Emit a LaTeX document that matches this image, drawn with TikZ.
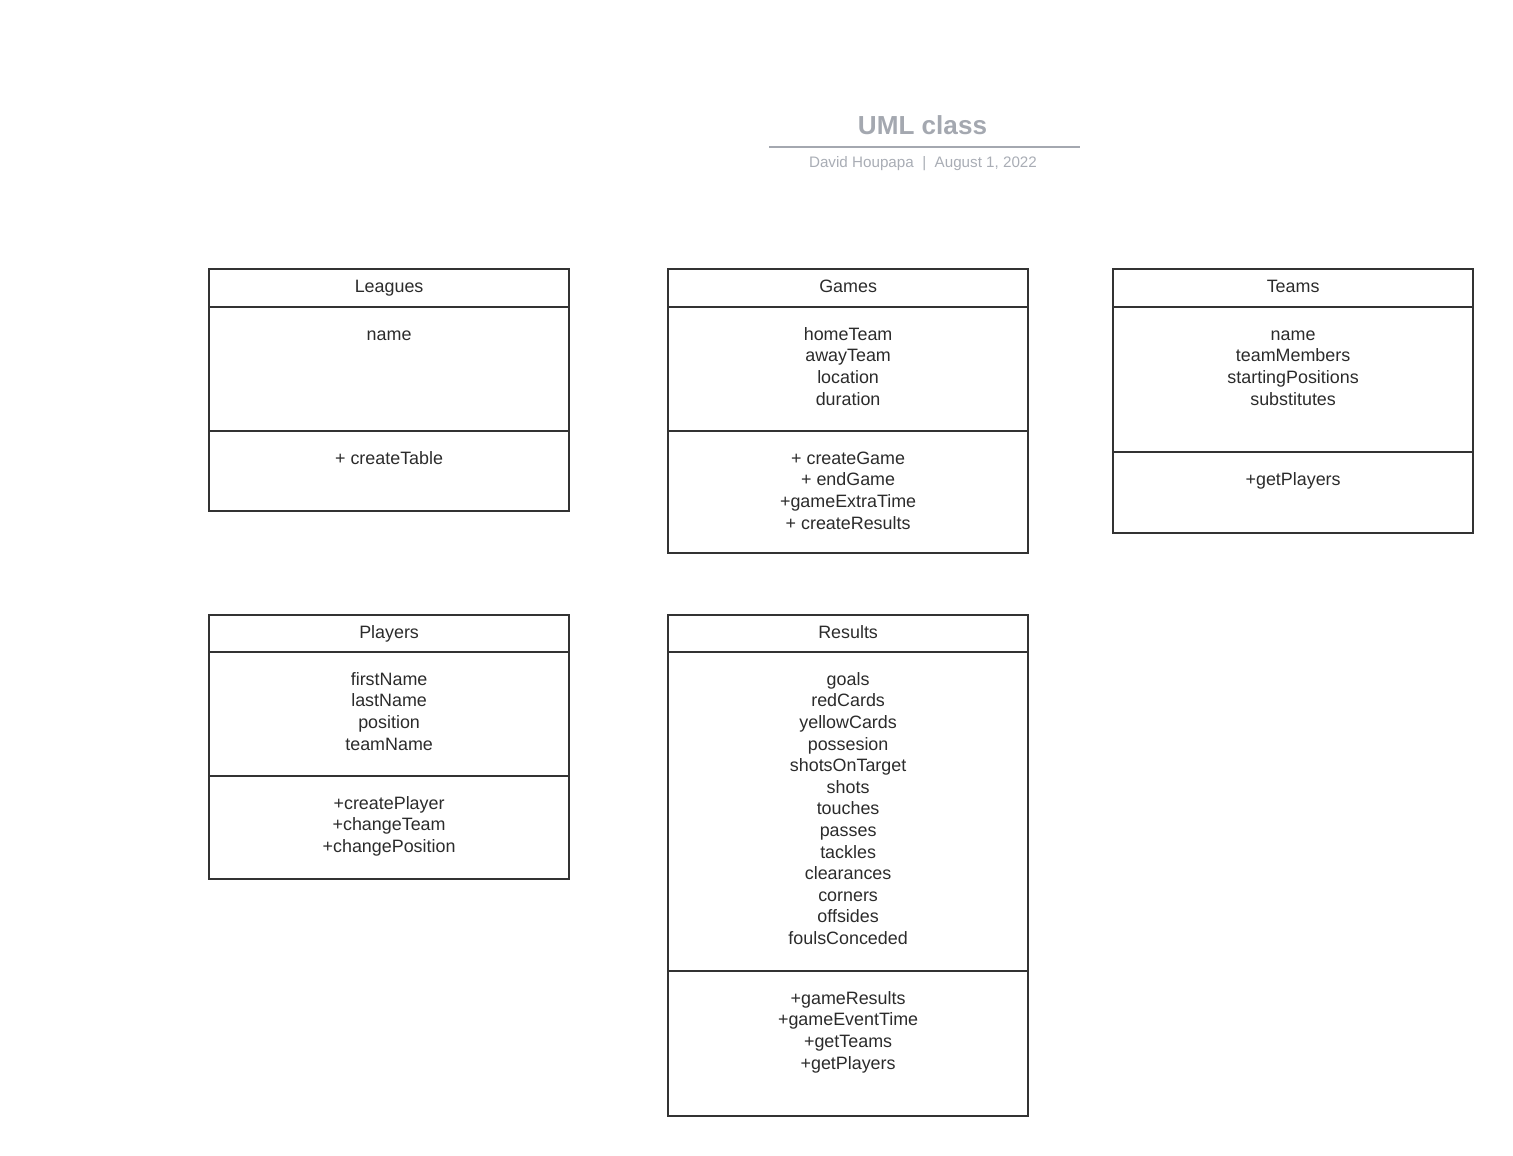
\documentclass[tikz,border=0pt]{standalone}
\usepackage{fontspec}
\setmainfont{Liberation Sans}
\definecolor{boxline}{HTML}{333333}
\definecolor{txtc}{HTML}{2B2B2B}
\definecolor{titlec}{HTML}{A4A8B0}
\definecolor{subc}{HTML}{A9ADB5}
\tikzset{
  comp/.style={draw=boxline, line width=1.8pt, minimum width=360pt, inner sep=0pt, anchor=north west},
  hdrtxt/.style={anchor=north, inner sep=0pt, align=center, text=txtc, font=\fontsize{17.9}{21.6}\selectfont, yshift=-9.0pt},
  memtxt/.style={anchor=north, inner sep=0pt, align=center, text=txtc, font=\fontsize{17.9}{21.6}\selectfont, yshift=-18.7pt},
}
\begin{document}
\begin{tikzpicture}[x=1pt,y=-1pt]
\useasboundingbox (0,0) rectangle (1513,1156);
% title
\node[anchor=base, inner sep=0pt, text=titlec, font=\fontsize{26.1}{30}\selectfont\bfseries] (title) at (922.5,134) {UML class};
\coordinate (tl) at (769,147);
\coordinate (tr) at (1080,147);
\draw[titlec, line width=1.8pt] (tl) -- (tr);
\node[anchor=base, inner sep=0pt, text=subc, font=\fontsize{15.2}{18}\selectfont] (sub) at (923,167) {David Houpapa~~|~~August 1, 2022};

\begin{scope}[shift={(-0.8,-0.8)}]
% Leagues
\node[comp, minimum height=38pt] (lh) at (209,269) {};
\node[comp, minimum height=124pt] (la) at (209,307) {};
\node[comp, minimum height=80pt] (lm) at (209,431) {};
\node[hdrtxt] (lht) at (lh.north) {\strut Leagues};
\node[memtxt] (lat) at (la.north) {\strut name};
\node[memtxt] (lmt) at (lm.north) {\strut + createTable};

% Games
\node[comp, minimum height=38pt] (gh) at (668,269) {};
\node[comp, minimum height=124pt] (ga) at (668,307) {};
\node[comp, minimum height=122pt] (gm) at (668,431) {};
\node[hdrtxt] (ght) at (gh.north) {\strut Games};
\node[memtxt] (gat) at (ga.north) {\strut homeTeam\\awayTeam\\location\\duration};
\node[memtxt] (gmt) at (gm.north) {\strut + createGame\\+ endGame\\+gameExtraTime\\+ createResults};

% Teams
\node[comp, minimum height=38pt] (th) at (1113,269) {};
\node[comp, minimum height=145pt] (ta) at (1113,307) {};
\node[comp, minimum height=81pt] (tm) at (1113,452) {};
\node[hdrtxt] (tht) at (th.north) {\strut Teams};
\node[memtxt] (tat) at (ta.north) {\strut name\\teamMembers\\startingPositions\\substitutes};
\node[memtxt] (tmt) at (tm.north) {\strut +getPlayers};

% Players
\node[comp, minimum height=37pt] (ph) at (209,615) {};
\node[comp, minimum height=124pt] (pa) at (209,652) {};
\node[comp, minimum height=103pt] (pm) at (209,776) {};
\node[hdrtxt] (pht) at (ph.north) {\strut Players};
\node[memtxt] (pat) at (pa.north) {\strut firstName\\lastName\\position\\teamName};
\node[memtxt] (pmt) at (pm.north) {\strut +createPlayer\\+changeTeam\\+changePosition};

% Results
\node[comp, minimum height=37pt] (rh) at (668,615) {};
\node[comp, minimum height=319pt] (ra) at (668,652) {};
\node[comp, minimum height=145pt] (rm) at (668,971) {};
\node[hdrtxt] (rht) at (rh.north) {\strut Results};
\node[memtxt] (rat) at (ra.north) {\strut goals\\redCards\\yellowCards\\possesion\\shotsOnTarget\\shots\\touches\\passes\\tackles\\clearances\\corners\\offsides\\foulsConceded};
\node[memtxt] (rmt) at (rm.north) {\strut +gameResults\\+gameEventTime\\+getTeams\\+getPlayers};
\end{scope}
\end{tikzpicture}
\end{document}
